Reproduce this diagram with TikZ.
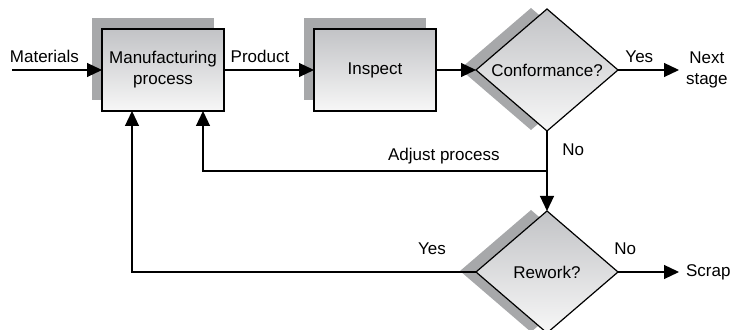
\documentclass[tikz,border=0pt]{standalone}
\usepackage{fontspec}
\setmainfont{Liberation Sans}
\usetikzlibrary{arrows.meta,shapes.geometric,shadows}
\definecolor{shadowgray}{RGB}{167,168,170}
\definecolor{boxtop}{RGB}{194,195,198}
\definecolor{boxbottom}{RGB}{247,247,247}
\tikzset{
  stepbox/.style={draw, line width=0.6pt, top color=boxtop, bottom color=boxbottom,
    minimum width=61pt, minimum height=41pt, align=center, outer sep=0pt,
    font=\fontsize{8.5}{10.5}\selectfont,
    general shadow={fill=shadowgray, draw=none, shadow xshift=-5.25pt, shadow yshift=5.25pt}},
  decision/.style={diamond, draw, line width=0.6pt, top color=boxtop, bottom color=boxbottom,
    aspect=1.16, inner sep=0pt, outer sep=0pt, minimum width=71pt, minimum height=61pt,
    font=\fontsize{8.5}{10.5}\selectfont,
    general shadow={fill=shadowgray, draw=none, shadow xshift=-8pt, shadow yshift=0.5pt}},
  flow/.style={line width=0.6pt, -{Triangle[length=7.5pt,width=7pt]}},
  lbl/.style={font=\fontsize{8.5}{10.5}\selectfont}
}
\begin{document}
\begin{tikzpicture}[x=0.5pt,y=-0.5pt]
  \useasboundingbox (0,0) rectangle (745,330);
  % boxes and decisions
  \node[stepbox] (mfg) at (163,70) {Manufacturing\\process};
  \node[stepbox] (insp) at (375,70) {Inspect};
  \node[decision] (conf) at (547,70) {\makebox[0pt]{Conformance?}};
  \node[decision] (rew) at (547,272) {\makebox[0pt]{Rework?}};
  \node[lbl, anchor=west, align=center] (next) at (679,70) {Next\\stage};
  \node[lbl, anchor=west] (scrap) at (679,272) {Scrap};
  \coordinate (matl) at (12,70);
  \coordinate (split) at (547,171);
  % main flow
  \draw[flow] (matl) -- node[lbl, above, pos=0.36] {Materials} (mfg);
  \draw[flow] (mfg) -- node[lbl, above, pos=0.4] {Product} (insp);
  \draw[flow] (insp) -- (conf);
  \draw[flow] (conf) -- node[lbl, above, pos=0.35] {Yes} (next);
  \draw[flow] (conf) -- node[lbl, right=4pt, pos=0.24] {No} (rew);
  \draw[flow] (rew) -- node[lbl, above=5pt, pos=0.12] {No} (scrap);
  % feedback loops
  \draw[flow] (split) -| node[lbl, above, pos=0.15] {Adjust process} ([xshift=20pt]mfg.south);
  \draw[flow] (rew) -| node[lbl, above=5pt, pos=0.064] {Yes} ([xshift=-15.5pt]mfg.south);
\end{tikzpicture}
\end{document}
